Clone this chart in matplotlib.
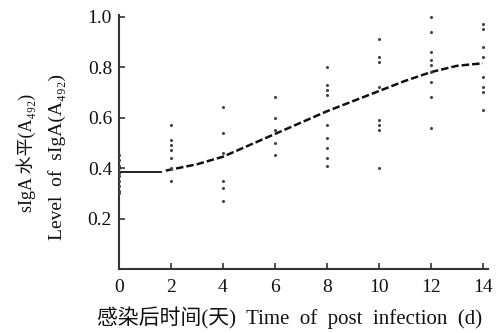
import numpy as np
import matplotlib
matplotlib.use('Agg')
import matplotlib.pyplot as plt

# sIgA readings per sampling day
days = [0, 2, 4, 6, 8, 10, 12, 14]
day0 = [0.45, 0.43, 0.41, 0.40, 0.38, 0.37, 0.35, 0.33, 0.31, 0.30]
day2 = [0.57, 0.51, 0.49, 0.47, 0.44, 0.40, 0.35]
day4 = [0.64, 0.54, 0.46, 0.35, 0.32, 0.27]
day6 = [0.68, 0.60, 0.55, 0.50, 0.45]
day8 = [0.80, 0.73, 0.71, 0.69, 0.57, 0.52, 0.48, 0.44, 0.41]
day10 = [0.91, 0.84, 0.82, 0.72, 0.59, 0.57, 0.55, 0.40]
day12 = [1.00, 0.94, 0.86, 0.83, 0.81, 0.78, 0.74, 0.68, 0.56]
day14 = [0.97, 0.95, 0.88, 0.84, 0.76, 0.72, 0.70, 0.63]
groups = [day0, day2, day4, day6, day8, day10, day12, day14]

# baseline (solid) and fitted trend (dashed)
base_x = [0, 1.6]
base_y = [0.385, 0.385]
fit_x = [1.8, 3, 4, 5, 6, 7, 8, 9, 10, 11, 12, 13, 14]
fit_y = [0.39, 0.415, 0.445, 0.49, 0.535, 0.58, 0.625, 0.665, 0.705, 0.745, 0.78, 0.805, 0.815]

xticks = [0, 2, 4, 6, 8, 10, 12, 14]
yticks = [0.2, 0.4, 0.6, 0.8, 1.0]

serif = ['Liberation Serif', 'Noto Sans CJK SC', 'DejaVu Serif']
plt.rcParams['font.family'] = serif

fig = plt.figure(figsize=(4.97, 3.33), dpi=100)
ax = fig.add_axes([0.2394, 0.192, 0.7426, 0.762])

for d, vals in zip(days, groups):
    ax.scatter([d] * len(vals), vals, s=5, color='#444444', linewidths=0, zorder=3)

ax.plot(base_x, base_y, color='#111111', lw=1.3)
ax.plot(fit_x, fit_y, color='#111111', lw=1.8, dashes=(3, 1.2))

ax.set_xlim(0, 14.2)
ax.set_ylim(0, 1.005)
ax.set_xticks(xticks)
ax.set_yticks(yticks)
ax.set_xticklabels([str(t) for t in xticks])
ax.set_yticklabels(['%.1f' % t for t in yticks])

for s in ['top', 'right']:
    ax.spines[s].set_visible(False)
for s in ['left', 'bottom']:
    ax.spines[s].set_linewidth(1.5)
    ax.spines[s].set_color('#333333')

ax.tick_params(axis='both', direction='in', length=4, width=1.2, color='#333333',
               labelsize=14, labelcolor='#111111')
ax.tick_params(axis='x', pad=7)
ax.tick_params(axis='y', pad=5)

fig.text(0.582, 0.045, '感染后时间(天)  Time  of  post  infection  (d)', ha='center', va='center',
         fontsize=15, color='#111111', family=serif)
fig.text(0.052, 0.54, 'sIgA 水平(A₄₉₂)', rotation=90, ha='center', va='center',
         fontsize=13, color='#111111', family=serif)
fig.text(0.115, 0.528, 'Level  of  sIgA(A₄₉₂)', rotation=90, ha='center', va='center',
         fontsize=14, color='#111111', family=serif)

fig.savefig('out.png', dpi=100)
